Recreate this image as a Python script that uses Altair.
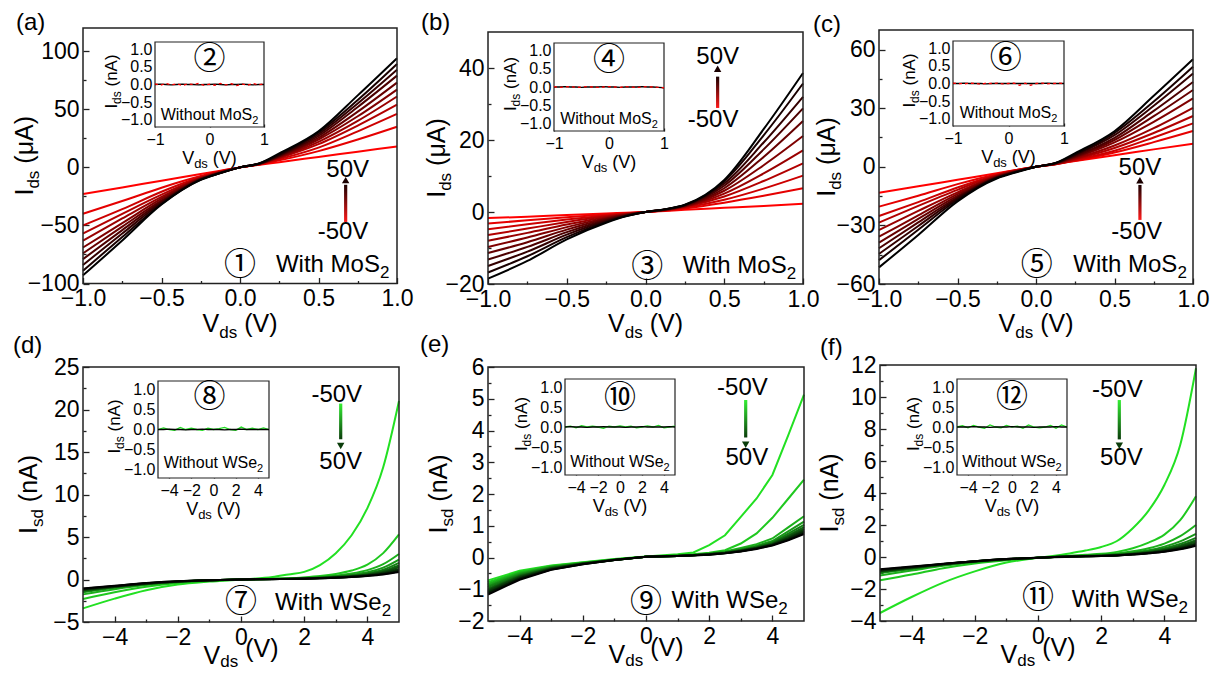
import altair as alt
import pandas as pd

# ------------------------------------------------------------------ data
VG = [-50, -40, -30, -20, -10, 0, 10, 20, 30, 40, 50]

VDS_MOS2 = [-1.0, -0.75, -0.5, -0.25, -0.125, 0.0, 0.125, 0.25, 0.5, 0.75, 1.0]

IDS_A = [
    [-23, -17.3, -11.5, -5.8, -2.9, 0, 2.3, 4.5, 9, 13.5, 18],
    [-40, -29, -17.5, -7.5, -3.3, 0, 2.5, 6, 14, 24, 35],
    [-50, -36, -21, -8.3, -3.6, 0, 2.6, 7, 17, 31, 46],
    [-57, -40, -23.5, -8.8, -3.9, 0, 2.8, 8, 20, 36, 54],
    [-63, -44, -25.5, -9.2, -4.1, 0, 2.9, 8.5, 22, 40, 61],
    [-69, -48, -27, -9.6, -4.3, 0, 3.0, 9, 24, 44, 67],
    [-74, -51, -28.5, -9.9, -4.5, 0, 3.1, 9.5, 25.5, 48, 73],
    [-79, -54, -29.5, -10.2, -4.6, 0, 3.2, 10, 27, 52, 79],
    [-84, -57, -30.5, -10.4, -4.8, 0, 3.3, 10.5, 28.5, 55, 84],
    [-89, -60, -31.5, -10.6, -4.9, 0, 3.4, 11, 30, 58, 89],
    [-93, -63, -32, -10.8, -5.0, 0, 3.5, 12, 31, 62, 94],
]

IDS_B = [
    [-1.7, -1.3, -0.85, -0.43, -0.21, 0, 0.3, 0.6, 1.15, 1.7, 2.3],
    [-3.2, -2.3, -1.45, -0.7, -0.33, 0, 0.4, 1.0, 2.6, 4.5, 6.6],
    [-4.8, -3.4, -2.1, -0.95, -0.45, 0, 0.45, 1.2, 3.4, 6.5, 10.1],
    [-6.4, -4.6, -2.8, -1.2, -0.55, 0, 0.5, 1.4, 4.3, 8.6, 13.5],
    [-8.0, -5.8, -3.5, -1.45, -0.65, 0, 0.55, 1.5, 5.1, 10.7, 17.1],
    [-9.7, -7.1, -4.2, -1.7, -0.75, 0, 0.6, 1.6, 5.9, 13.0, 21.1],
    [-11.4, -8.4, -4.9, -1.95, -0.85, 0, 0.65, 1.7, 6.6, 15.3, 25.3],
    [-13.2, -9.7, -5.6, -2.2, -0.95, 0, 0.7, 1.8, 7.3, 17.4, 28.8],
    [-15.0, -11.0, -6.3, -2.5, -1.05, 0, 0.72, 1.9, 7.9, 19.3, 32.0],
    [-16.8, -12.3, -7.0, -2.75, -1.15, 0, 0.76, 1.95, 8.5, 21.3, 35.7],
    [-18.5, -13.6, -7.6, -3.0, -1.2, 0, 0.8, 2.0, 8.9, 23.0, 38.6],
]

IDS_C = [
    [-13.3, -10.0, -6.65, -3.3, -1.66, 0, 1.5, 3.0, 5.9, 8.9, 11.8],
    [-20.4, -14.8, -8.9, -3.8, -1.7, 0, 1.3, 3.1, 7.3, 12.6, 18.3],
    [-25.2, -18.1, -10.6, -4.2, -1.8, 0, 1.3, 3.4, 8.2, 15.0, 22.2],
    [-28.6, -20.0, -11.8, -4.4, -1.95, 0, 1.35, 3.8, 9.6, 17.3, 26.0],
    [-32.4, -22.6, -13.1, -4.7, -2.1, 0, 1.45, 4.2, 10.9, 19.8, 30.2],
    [-35.8, -24.9, -14.0, -5.0, -2.2, 0, 1.6, 4.7, 12.5, 23.0, 35.0],
    [-38.8, -26.7, -14.9, -5.2, -2.35, 0, 1.65, 5.1, 13.7, 25.9, 39.3],
    [-41.7, -28.5, -15.6, -5.4, -2.4, 0, 1.8, 5.5, 14.8, 28.6, 43.4],
    [-44.6, -30.3, -16.2, -5.5, -2.5, 0, 1.85, 6.0, 16.2, 31.2, 47.7],
    [-47.8, -32.2, -16.9, -5.7, -2.6, 0, 1.95, 6.3, 17.3, 33.4, 51.2],
    [-51.5, -34.9, -17.7, -6.0, -2.8, 0, 2.0, 7.0, 18.2, 36.3, 55.0],
]

VDS_WSE2 = [-5, -4, -3, -2, -1, 0, 1, 1.5, 2, 2.5, 3, 3.5, 4, 4.5, 5]

ISD_D = [
    [-3.4, -2.25, -1.26, -0.6, -0.25, 0, 0.3, 0.6, 0.9, 1.7, 3.1, 5.2, 8.4, 13.2, 21.0],
    [-2.3, -1.5, -0.85, -0.42, -0.17, 0, 0.1, 0.15, 0.25, 0.4, 0.65, 1.05, 1.75, 3.1, 5.3],
    [-1.75, -1.15, -0.66, -0.33, -0.13, 0, 0.08, 0.12, 0.2, 0.3, 0.45, 0.7, 1.1, 1.8, 3.0],
    [-1.5, -0.98, -0.57, -0.28, -0.11, 0, 0.07, 0.1, 0.17, 0.25, 0.38, 0.56, 0.85, 1.4, 2.35],
    [-1.4, -0.92, -0.54, -0.27, -0.1, 0, 0.06, 0.09, 0.15, 0.22, 0.33, 0.48, 0.72, 1.15, 1.95],
    [-1.33, -0.88, -0.52, -0.26, -0.1, 0, 0.06, 0.08, 0.13, 0.2, 0.3, 0.43, 0.63, 1.0, 1.65],
    [-1.27, -0.85, -0.5, -0.25, -0.1, 0, 0.05, 0.08, 0.12, 0.18, 0.27, 0.39, 0.57, 0.88, 1.45],
    [-1.2, -0.82, -0.48, -0.24, -0.09, 0, 0.05, 0.07, 0.11, 0.17, 0.25, 0.36, 0.52, 0.8, 1.25],
    [-1.15, -0.79, -0.46, -0.23, -0.09, 0, 0.05, 0.07, 0.1, 0.16, 0.23, 0.33, 0.48, 0.72, 1.1],
    [-1.1, -0.76, -0.44, -0.22, -0.09, 0, 0.04, 0.06, 0.1, 0.15, 0.22, 0.31, 0.45, 0.65, 0.98],
    [-1.05, -0.73, -0.42, -0.21, -0.08, 0, 0.04, 0.06, 0.09, 0.14, 0.2, 0.29, 0.42, 0.6, 0.88],
]

ISD_E = [
    [-0.72, -0.42, -0.25, -0.15, -0.05, 0.03, 0.1, 0.16, 0.39, 0.7, 1.28, 1.86, 2.6, 3.85, 5.13],
    [-0.78, -0.45, -0.27, -0.16, -0.06, 0.02, 0.07, 0.1, 0.15, 0.23, 0.44, 0.76, 1.25, 1.85, 2.45],
    [-0.83, -0.48, -0.28, -0.17, -0.06, 0.02, 0.06, 0.09, 0.13, 0.19, 0.3, 0.42, 0.6, 0.95, 1.3],
    [-0.88, -0.51, -0.3, -0.18, -0.07, 0.02, 0.06, 0.08, 0.12, 0.17, 0.26, 0.37, 0.52, 0.82, 1.13],
    [-0.93, -0.54, -0.31, -0.18, -0.07, 0.02, 0.05, 0.08, 0.11, 0.16, 0.24, 0.34, 0.48, 0.75, 1.03],
    [-0.98, -0.57, -0.33, -0.19, -0.07, 0.02, 0.05, 0.07, 0.11, 0.15, 0.23, 0.32, 0.45, 0.7, 0.96],
    [-1.02, -0.6, -0.34, -0.19, -0.08, 0.02, 0.05, 0.07, 0.1, 0.15, 0.22, 0.31, 0.43, 0.66, 0.9],
    [-1.06, -0.62, -0.35, -0.2, -0.08, 0.02, 0.05, 0.07, 0.1, 0.14, 0.21, 0.3, 0.41, 0.62, 0.85],
    [-1.1, -0.65, -0.37, -0.2, -0.08, 0.02, 0.05, 0.07, 0.1, 0.14, 0.2, 0.29, 0.4, 0.59, 0.81],
    [-1.13, -0.67, -0.38, -0.21, -0.08, 0.02, 0.05, 0.07, 0.09, 0.13, 0.2, 0.28, 0.39, 0.56, 0.77],
    [-1.17, -0.7, -0.39, -0.21, -0.08, 0.02, 0.05, 0.06, 0.09, 0.13, 0.19, 0.27, 0.38, 0.54, 0.74],
]

ISD_F = [
    [-3.5, -2.5, -1.6, -0.9, -0.35, -0.05, 0.22, 0.4, 0.63, 1.0, 1.8, 2.9, 4.5, 7.0, 11.8],
    [-1.46, -1.1, -0.7, -0.4, -0.2, -0.05, 0.08, 0.14, 0.2, 0.32, 0.55, 0.9, 1.4, 2.3, 3.8],
    [-1.15, -0.85, -0.55, -0.33, -0.17, -0.05, 0.06, 0.1, 0.15, 0.22, 0.36, 0.55, 0.84, 1.3, 2.0],
    [-1.0, -0.75, -0.5, -0.3, -0.15, -0.05, 0.05, 0.08, 0.12, 0.18, 0.28, 0.42, 0.65, 0.98, 1.45],
    [-0.95, -0.72, -0.48, -0.29, -0.15, -0.05, 0.04, 0.07, 0.1, 0.15, 0.24, 0.36, 0.55, 0.82, 1.2],
    [-0.92, -0.7, -0.47, -0.28, -0.14, -0.05, 0.04, 0.06, 0.09, 0.13, 0.21, 0.32, 0.48, 0.72, 1.05],
    [-0.9, -0.68, -0.46, -0.28, -0.14, -0.05, 0.03, 0.05, 0.08, 0.12, 0.19, 0.29, 0.43, 0.65, 0.95],
    [-0.87, -0.66, -0.45, -0.27, -0.14, -0.05, 0.03, 0.05, 0.07, 0.11, 0.18, 0.27, 0.4, 0.59, 0.85],
    [-0.84, -0.64, -0.44, -0.27, -0.13, -0.05, 0.03, 0.04, 0.07, 0.1, 0.17, 0.25, 0.37, 0.55, 0.8],
    [-0.8, -0.62, -0.43, -0.26, -0.13, -0.05, 0.03, 0.04, 0.06, 0.1, 0.16, 0.24, 0.35, 0.51, 0.75],
    [-0.76, -0.6, -0.42, -0.26, -0.13, -0.05, 0.02, 0.04, 0.06, 0.09, 0.15, 0.23, 0.33, 0.48, 0.7],
]

INSET_VDS_MOS2 = [-1.0, -0.9, -0.8, -0.7, -0.6, -0.5, -0.4, -0.3, -0.2, -0.1, 0.0,
                  0.1, 0.2, 0.3, 0.4, 0.5, 0.6, 0.7, 0.8, 0.9, 1.0]
INSET_VDS_WSE2 = [-5.0, -4.5, -4.0, -3.5, -3.0, -2.5, -2.0, -1.5, -1.0, -0.5, 0.0,
                  0.5, 1.0, 1.5, 2.0, 2.5, 3.0, 3.5, 4.0, 4.5, 5.0]

INSET_A_BLACK = [0.0, 0.01, 0.0, -0.01, 0.0, 0.01, 0.0, 0.0, -0.01, 0.0, 0.0, 0.01, 0.0, -0.01, 0.0, 0.0, 0.01, 0.0, -0.01, 0.0, 0.0]
INSET_A_RED = [0.02, -0.02, 0.03, -0.01, 0.02, -0.03, 0.02, 0.0, 0.03, -0.02, 0.01, -0.02, 0.03, -0.01, 0.02, -0.03, 0.01, -0.02, 0.03, -0.01, 0.02]
INSET_B_BLACK = [0.0, 0.0, 0.01, 0.0, 0.0, -0.01, 0.0, 0.0, 0.0, 0.01, 0.0, 0.0, -0.01, 0.0, 0.0, 0.0, 0.01, 0.0, 0.0, -0.01, -0.02]
INSET_B_RED = [0.01, -0.01, 0.0, 0.01, -0.01, 0.0, 0.01, 0.0, -0.01, 0.0, 0.01, 0.0, -0.01, 0.01, 0.0, -0.01, 0.0, 0.01, 0.0, -0.01, -0.02]
INSET_C_BLACK = [0.0, 0.0, 0.01, 0.0, 0.0, 0.0, -0.01, 0.0, 0.0, 0.0, 0.0, 0.0, 0.0, 0.0, 0.0, 0.0, 0.0, 0.01, 0.0, 0.0, 0.0]
INSET_C_RED = [0.01, 0.0, -0.01, 0.01, 0.0, -0.02, 0.01, 0.0, 0.01, -0.01, 0.0, 0.01, -0.05, 0.01, -0.05, 0.0, 0.01, -0.01, 0.0, 0.01, 0.0]
INSET_D_GREEN = [0.0, 0.04, 0.0, -0.02, 0.05, 0.0, 0.03, 0.0, -0.02, 0.03, 0.0, 0.02, 0.05, 0.0, -0.02, 0.06, 0.0, 0.03, 0.0, 0.04, 0.0]
INSET_D_BLACK = [0.0, 0.0, 0.01, 0.0, 0.0, -0.01, 0.0, 0.0, 0.01, 0.0, 0.0, 0.0, -0.01, 0.0, 0.0, 0.01, 0.0, 0.0, 0.0, 0.0, 0.0]
INSET_E_GREEN = [0.0, 0.02, -0.02, 0.03, 0.0, 0.02, 0.0, -0.03, 0.02, 0.0, 0.03, 0.0, 0.02, -0.02, 0.0, 0.03, 0.0, 0.04, -0.02, 0.0, 0.02]
INSET_E_BLACK = [0.0, 0.01, 0.0, 0.0, -0.01, 0.0, 0.0, 0.01, 0.0, 0.0, 0.0, -0.01, 0.0, 0.0, 0.01, 0.0, 0.0, 0.0, 0.0, 0.01, 0.0]
INSET_F_GREEN = [0.0, 0.03, -0.02, 0.04, 0.0, -0.03, 0.05, 0.0, -0.02, 0.04, 0.0, 0.02, -0.03, 0.05, 0.0, -0.02, 0.0, 0.04, -0.03, 0.05, 0.0]
INSET_F_BLACK = [0.0, 0.0, 0.0, 0.01, 0.0, 0.0, -0.01, 0.0, 0.0, 0.0, 0.01, 0.0, 0.0, 0.0, -0.01, 0.0, 0.0, 0.0, 0.01, 0.0, 0.0]

RED_SHADES = ['#ff0000', '#e50000', '#cc0000', '#b20000', '#990000', '#7f0000',
              '#660000', '#4c0000', '#330000', '#190000', '#000000']
GREEN_SHADES = ['#22e022', '#1fc81f', '#1bb01b', '#189818', '#148014', '#116811',
                '#0d500d', '#0a3c0a', '#072a07', '#041804', '#000000']

XT_MOS2 = [-1.0, -0.5, 0.0, 0.5, 1.0]
XM_MOS2 = [-0.75, -0.25, 0.25, 0.75]
XT_WSE2 = [-4, -2, 0, 2, 4]
XM_WSE2 = [-3, -1, 1, 3]
INSET_XT_MOS2 = [-1, 0, 1]
INSET_YT = [-1.0, -0.5, 0.0, 0.5, 1.0]

# ------------------------------------------------------------------ layout / style
W, H = 1206, 663
FONT = "Liberation Sans"
CFONT = "Noto Sans CJK SC"
FRAME = "#222222"
TICK_FS = 23
INSET_FS = 16
CIRC_FS = 32

ADV = {'I': 278, 'V': 667, 'd': 556, 's': 500, ' ': 278, '(': 333, ')': 333, 'μ': 576,
       'A': 667, 'n': 556, 'W': 944, 'i': 222, 't': 278, 'h': 556, 'o': 556, 'u': 556,
       'M': 833, 'S': 667, 'e': 556, '2': 556}


def tw(s, size):
    return sum(ADV.get(ch, 556) for ch in s) * size / 1000.0


def lin(dom, rng):
    return alt.Scale(domain=list(dom), range=list(rng), nice=False, zero=False)


def txt(xs, ys, xv, yv, text, size, dx=0.0, dy=0.0, angle=0, align='left',
        baseline='alphabetic', font=FONT, color='black'):
    kw = dict(text=text, fontSize=size, font=font, dx=dx, dy=dy, align=align,
              baseline=baseline, color=color)
    if angle:
        kw['angle'] = angle
    df = pd.DataFrame({'x': [xv], 'y': [yv]})
    return alt.Chart(df).mark_text(**kw).encode(
        x=alt.X('x:Q', scale=xs, axis=None), y=alt.Y('y:Q', scale=ys, axis=None))


def rich(xs, ys, xv, yv, pieces, along=0.0, perp=0.0, angle=0, anchor='center'):
    total = sum(tw(t, s) for t, s, _ in pieces)
    cur = {'center': -total / 2.0, 'left': 0.0, 'right': -total}[anchor]
    out = []
    for t, s, sh in pieces:
        if t.strip():
            out.append(txt(xs, ys, xv, yv, t, s, dx=along + cur, dy=perp + sh, angle=angle))
        cur += tw(t, s)
    return out


def label_axis(orient, pos, values, fmt, size, pad):
    off = (pos - H) if orient == 'bottom' else -pos
    return alt.Axis(orient=orient, offset=off, values=values, format=fmt,
                    labelFontSize=size, labelFont=FONT, labelColor='black',
                    labelPadding=pad, labelFlush=False, labelOverlap=False,
                    tickCount=50, ticks=False, tickSize=0, domain=False, grid=False, title=None)


def tick_axis(orient, pos, values, size):
    off = -pos if orient == 'top' else (pos - W)
    return alt.Axis(orient=orient, offset=off, values=values, labels=False, ticks=True,
                    tickCount=50, tickSize=size, tickWidth=1.3, tickColor=FRAME, domain=False,
                    grid=False, title=None)


PANELS = [
    dict(lbl='(a)', lbl_off=(-67, 2), fx=(75, 389), fy=(20, 275.5), xd=(-1, 1), yd=(-100, 120),
         vx=VDS_MOS2, curves=IDS_A, shades=RED_SHADES, interp='monotone',
         xt=XT_MOS2, xm=XM_MOS2, xf='.1f', yt=[-100, -50, 0, 50, 100], ym=[-75, -25, 25, 75], yf='d',
         ysub='ds', yunit='(μA)', ygap=50, row=1,
         circ='①', circ_at=(0.0, -84.0), with_at=(0.229, -89.8), mat='MoS',
         top_lab=('50V', 0.686, -2.2), bot_lab=('-50V', 0.656, -55.4),
         arrow=(0.673, -47.0, -15.0, -11.0),
         ix=(147, 256), iy=(34, 119), ixd=(-1, 1), ixt=INSET_XT_MOS2, ivx=INSET_VDS_MOS2,
         iser=[(INSET_A_BLACK, '#000000', False), (INSET_A_RED, '#ff0000', True)],
         icirc='②', icirc_at=(0.0, 0.72), without_y=-1.0),
    dict(lbl='(b)', lbl_off=(-67, -2), fx=(480, 795), fy=(24, 276), xd=(-1, 1), yd=(-20, 50),
         vx=VDS_MOS2, curves=IDS_B, shades=RED_SHADES, interp='monotone',
         xt=XT_MOS2, xm=XM_MOS2, xf='.1f', yt=[-20, 0, 20, 40], ym=[-10, 10, 30], yf='d',
         ysub='ds', yunit='(μA)', ygap=43, row=1,
         circ='③', circ_at=(0.011, -15.2), with_at=(0.236, -16.9), mat='MoS',
         top_lab=('50V', 0.458, 43.1), bot_lab=('-50V', 0.429, 25.6),
         arrow=(0.458, 28.9, 37.6, 39.8),
         ix=(546, 656), iy=(35, 123), ixd=(-1, 1), ixt=INSET_XT_MOS2, ivx=INSET_VDS_MOS2,
         iser=[(INSET_B_BLACK, '#000000', False), (INSET_B_RED, '#ff0000', True)],
         icirc='④', icirc_at=(0.0, 0.74), without_y=-1.02),
    dict(lbl='(c)', lbl_off=(-66, 2), fx=(871, 1185), fy=(22, 276), xd=(-1, 1), yd=(-60, 70),
         vx=VDS_MOS2, curves=IDS_C, shades=RED_SHADES, interp='monotone',
         xt=XT_MOS2, xm=XM_MOS2, xf='.1f', yt=[-60, -30, 0, 30, 60], ym=[-45, -15, 15, 45], yf='d',
         ysub='ds', yunit='(μA)', ygap=44, row=1,
         circ='⑤', circ_at=(0.004, -50.3), with_at=(0.238, -53.7), mat='MoS',
         top_lab=('50V', 0.662, -0.8), bot_lab=('-50V', 0.641, -33.2),
         arrow=(0.662, -27.2, -9.3, -6.9),
         ix=(945, 1056), iy=(33, 118), ixd=(-1, 1), ixt=INSET_XT_MOS2, ivx=INSET_VDS_MOS2,
         iser=[(INSET_C_BLACK, '#000000', False), (INSET_C_RED, '#ff0000', True)],
         icirc='⑥', icirc_at=(-0.05, 0.72), without_y=-0.98),
    dict(lbl='(d)', lbl_off=(-70, -14), fx=(75, 391), fy=(359, 614), xd=(-5, 5), yd=(-5, 25),
         vx=VDS_WSE2, curves=ISD_D, shades=GREEN_SHADES, interp='monotone',
         xt=XT_WSE2, xm=XM_WSE2, xf='d', yt=[-5, 0, 5, 10, 15, 20, 25],
         ym=[-2.5, 2.5, 7.5, 12.5, 17.5, 22.5], yf='d',
         ysub='sd', yunit='(nA)', ygap=46, row=2,
         circ='⑦', circ_at=(0.0, -2.61), with_at=(1.076, -3.59), mat='WSe',
         top_lab=('-50V', 3.03, 21.7), bot_lab=('50V', 3.155, 13.85),
         arrow=(3.155, 20.7, 16.5, 15.7),
         ix=(150, 261), iy=(373, 470), ixd=(-5, 5), ixt=XT_WSE2, ivx=INSET_VDS_WSE2,
         iser=[(INSET_D_GREEN, '#22dd22', False), (INSET_D_BLACK, '#000000', False)],
         icirc='⑧', icirc_at=(-0.37, 0.81), without_y=-0.95),
    dict(lbl='(e)', lbl_off=(-68, -15), fx=(480, 796), fy=(359, 613), xd=(-5, 5), yd=(-2, 6),
         vx=VDS_WSE2, curves=ISD_E, shades=GREEN_SHADES, interp='linear',
         xt=XT_WSE2, xm=XM_WSE2, xf='d', yt=[-2, -1, 0, 1, 2, 3, 4, 5, 6],
         ym=[-1.5, -0.5, 0.5, 1.5, 2.5, 3.5, 4.5, 5.5], yf='d',
         ysub='sd', yunit='(nA)', ygap=41, row=2,
         circ='⑨', circ_at=(0.0, -1.39), with_at=(0.81, -1.6), mat='WSe',
         top_lab=('-50V', 3.05, 5.33), bot_lab=('50V', 3.19, 3.13),
         arrow=(3.155, 4.96, 3.78, 3.55),
         ix=(557, 667), iy=(371, 467), ixd=(-5, 5), ixt=XT_WSE2, ivx=INSET_VDS_WSE2,
         iser=[(INSET_E_GREEN, '#22dd22', False), (INSET_E_BLACK, '#000000', False)],
         icirc='⑩', icirc_at=(0.0, 0.73), without_y=-0.99),
    dict(lbl='(f)', lbl_off=(-60, -10), fx=(872, 1188), fy=(357, 613), xd=(-5, 5), yd=(-4, 12),
         vx=VDS_WSE2, curves=ISD_F, shades=GREEN_SHADES, interp='monotone',
         xt=XT_WSE2, xm=XM_WSE2, xf='d', yt=[-4, -2, 0, 2, 4, 6, 8, 10, 12],
         ym=[-3, -1, 1, 3, 5, 7, 9, 11], yf='d',
         ysub='sd', yunit='(nA)', ygap=42, row=2,
         circ='⑪', circ_at=(0.0, -2.58), with_at=(1.07, -3.1), mat='WSe',
         top_lab=('-50V', 2.51, 10.44), bot_lab=('50V', 2.64, 6.17),
         arrow=(2.573, 9.81, 7.35, 6.95),
         ix=(949, 1059), iy=(371, 467), ixd=(-5, 5), ixt=XT_WSE2, ivx=INSET_VDS_WSE2,
         iser=[(INSET_F_GREEN, '#22dd22', False), (INSET_F_BLACK, '#000000', False)],
         icirc='⑫', icirc_at=(0.0, 0.74), without_y=-0.99),
]


def build(p):
    L = []
    x0, x1 = p['fx']
    y0, y1 = p['fy']
    xs = lin(p['xd'], (x0, x1))
    ys = lin(p['yd'], (y1, y0))

    # curves (with labelled axes)
    rows = []
    for k, vals in enumerate(p['curves']):
        for v, i in zip(p['vx'], vals):
            rows.append({'v': v, 'i': i, 'k': k, 'col': p['shades'][k]})
    df = pd.DataFrame(rows)
    L.append(alt.Chart(df).mark_line(strokeWidth=2, interpolate=p['interp']).encode(
        x=alt.X('v:Q', scale=xs, axis=label_axis('bottom', y1, p['xt'], p['xf'], TICK_FS, 4)),
        y=alt.Y('i:Q', scale=ys, axis=label_axis('left', x0, p['yt'], p['yf'], TICK_FS, 4)),
        color=alt.Color('col:N', scale=None), detail='k:N'))

    # frame + inward major ticks
    fdf = pd.DataFrame({'xa': [p['xd'][0]], 'xb': [p['xd'][1]], 'ya': [p['yd'][0]], 'yb': [p['yd'][1]]})
    L.append(alt.Chart(fdf).mark_rect(fillOpacity=0, stroke=FRAME, strokeWidth=1.5).encode(
        x=alt.X('xa:Q', scale=xs, axis=tick_axis('top', y1, p['xt'], 6)), x2='xb:Q',
        y=alt.Y('ya:Q', scale=ys, axis=tick_axis('right', x0, p['yt'], 6)), y2='yb:Q'))
    # minor ticks
    L.append(alt.Chart(fdf).mark_rect(fillOpacity=0, strokeOpacity=0).encode(
        x=alt.X('xa:Q', scale=xs, axis=tick_axis('top', y1, p['xm'], 3)), x2='xb:Q',
        y=alt.Y('ya:Q', scale=ys, axis=tick_axis('right', x0, p['ym'], 3)), y2='yb:Q'))

    # panel label
    L.append(txt(xs, ys, p['xd'][0], p['yd'][1], p['lbl'], 24,
                 dx=p['lbl_off'][0], dy=p['lbl_off'][1]))

    # axis titles
    xmid = (p['xd'][0] + p['xd'][1]) / 2.0
    ymid = (p['yd'][0] + p['yd'][1]) / 2.0
    if p['row'] == 1:
        xt_pieces = [('V', 25, 0), ('ds', 17, 6), (' ', 25, 0), ('(V)', 25, 0)]
        xperp = 48
    else:
        xt_pieces = [('V', 25, 0), ('ds', 17, 3), (' ', 25, 0), ('(V)', 25, -7)]
        xperp = 42
    L += rich(xs, ys, xmid, p['yd'][0], xt_pieces, perp=xperp)
    L += rich(xs, ys, p['xd'][0], ymid,
              [('I', 25, 0), (p['ysub'], 17, 6), (' ', 25, 0), (p['yunit'], 25, 0)],
              perp=-p['ygap'], angle=270)

    # annotations
    cx, cy = p['circ_at']
    L.append(txt(xs, ys, cx, cy, p['circ'], CIRC_FS, align='center', baseline='middle', font=CFONT))
    wx, wy = p['with_at']
    L += rich(xs, ys, wx, wy, [('With ' + p['mat'], 24, 0), ('2', 17, 6)], anchor='left')
    for lab in (p['top_lab'], p['bot_lab']):
        L.append(txt(xs, ys, lab[1], lab[2], lab[0], 24, align='center', baseline='middle'))

    # gradient arrow
    ax, ya, yb, yh = p['arrow']
    hw = 1.6 * (p['xd'][1] - p['xd'][0]) / (x1 - x0)
    adf = pd.DataFrame({'xa': [ax - hw], 'xb': [ax + hw], 'ya': [ya], 'yb': [yb]})
    if p['row'] == 1:
        grad = alt.LinearGradient(gradient='linear', x1=0, y1=1, x2=0, y2=0,
                                  stops=[alt.GradientStop(color='#ff1a1a', offset=0),
                                         alt.GradientStop(color='#1a0000', offset=1)])
        shape, hcol = 'triangle-up', '#1a0000'
    else:
        grad = alt.LinearGradient(gradient='linear', x1=0, y1=0, x2=0, y2=1,
                                  stops=[alt.GradientStop(color='#33ee33', offset=0),
                                         alt.GradientStop(color='#0b3d0b', offset=1)])
        shape, hcol = 'triangle-down', '#0b3d0b'
    L.append(alt.Chart(adf).mark_rect(fill=grad, strokeOpacity=0).encode(
        x=alt.X('xa:Q', scale=xs, axis=None), x2='xb:Q',
        y=alt.Y('ya:Q', scale=ys, axis=None), y2='yb:Q'))
    hdf = pd.DataFrame({'x': [ax], 'y': [yh]})
    L.append(alt.Chart(hdf).mark_point(shape=shape, filled=True, size=55, color=hcol, opacity=1).encode(
        x=alt.X('x:Q', scale=xs, axis=None), y=alt.Y('y:Q', scale=ys, axis=None)))

    # ---------------- inset
    ix0, ix1 = p['ix']
    iy0, iy1 = p['iy']
    ixs = lin(p['ixd'], (ix0, ix1))
    iys = lin((-1.2, 1.2), (iy1, iy0))
    idf = pd.DataFrame({'xa': [p['ixd'][0]], 'xb': [p['ixd'][1]], 'ya': [-1.2], 'yb': [1.2]})
    L.append(alt.Chart(idf).mark_rect(fill='white', stroke=FRAME, strokeWidth=1.2).encode(
        x=alt.X('xa:Q', scale=ixs, axis=tick_axis('top', iy1, p['ixt'], 3)), x2='xb:Q',
        y=alt.Y('ya:Q', scale=iys, axis=tick_axis('right', ix0, INSET_YT, 3)), y2='yb:Q'))
    # split the x labels over the two series layers (each axis keeps its own values)
    xt_all = p['ixt']
    xt_mid = [v for v in xt_all if v == 0]
    xt_rest = [v for v in xt_all if v != 0]
    for n, (vals, col, dash) in enumerate(p['iser']):
        sdf = pd.DataFrame({'v': p['ivx'], 'i': vals})
        mk = dict(strokeWidth=1.3, color=col)
        if dash:
            mk['strokeDash'] = [3, 3]
        if n == 0:
            xa_ = label_axis('bottom', iy1, xt_rest, 'd', INSET_FS, 4)
            ya_ = label_axis('left', ix0, INSET_YT, '.1f', INSET_FS, 3)
        else:
            xa_ = label_axis('bottom', iy1, xt_mid, 'd', INSET_FS, 4)
            ya_ = None
        L.append(alt.Chart(sdf).mark_line(**mk).encode(
            x=alt.X('v:Q', scale=ixs, axis=xa_), y=alt.Y('i:Q', scale=iys, axis=ya_)))

    ixmid = (p['ixd'][0] + p['ixd'][1]) / 2.0
    icx, icy = p['icirc_at']
    L.append(txt(ixs, iys, icx, icy, p['icirc'], CIRC_FS, align='center', baseline='middle', font=CFONT))
    L += rich(ixs, iys, ixmid, p['without_y'], [('Without ' + p['mat'], 16, 0), ('2', 11, 4)])
    L += rich(ixs, iys, ixmid, -1.2, [('V', 18, 0), ('ds', 13, 4), (' ', 18, 0), ('(V)', 18, 0)], perp=37)
    L += rich(ixs, iys, p['ixd'][0], 0.0,
              [('I', 17, 0), ('ds', 12, 4), (' ', 17, 0), ('(nA)', 17, 0)],
              along=3, perp=-38, angle=270)
    return L


layers = []
for p in PANELS:
    layers += build(p)

chart = alt.layer(*layers).resolve_scale(
    x='independent', y='independent'
).resolve_axis(
    x='independent', y='independent'
).properties(
    width=W, height=H, padding=0, background='white',
    autosize=alt.AutoSizeParams(type='none')
).configure_view(strokeWidth=0)

chart.save("out.html", embed_options={"renderer": "svg", "actions": False})
